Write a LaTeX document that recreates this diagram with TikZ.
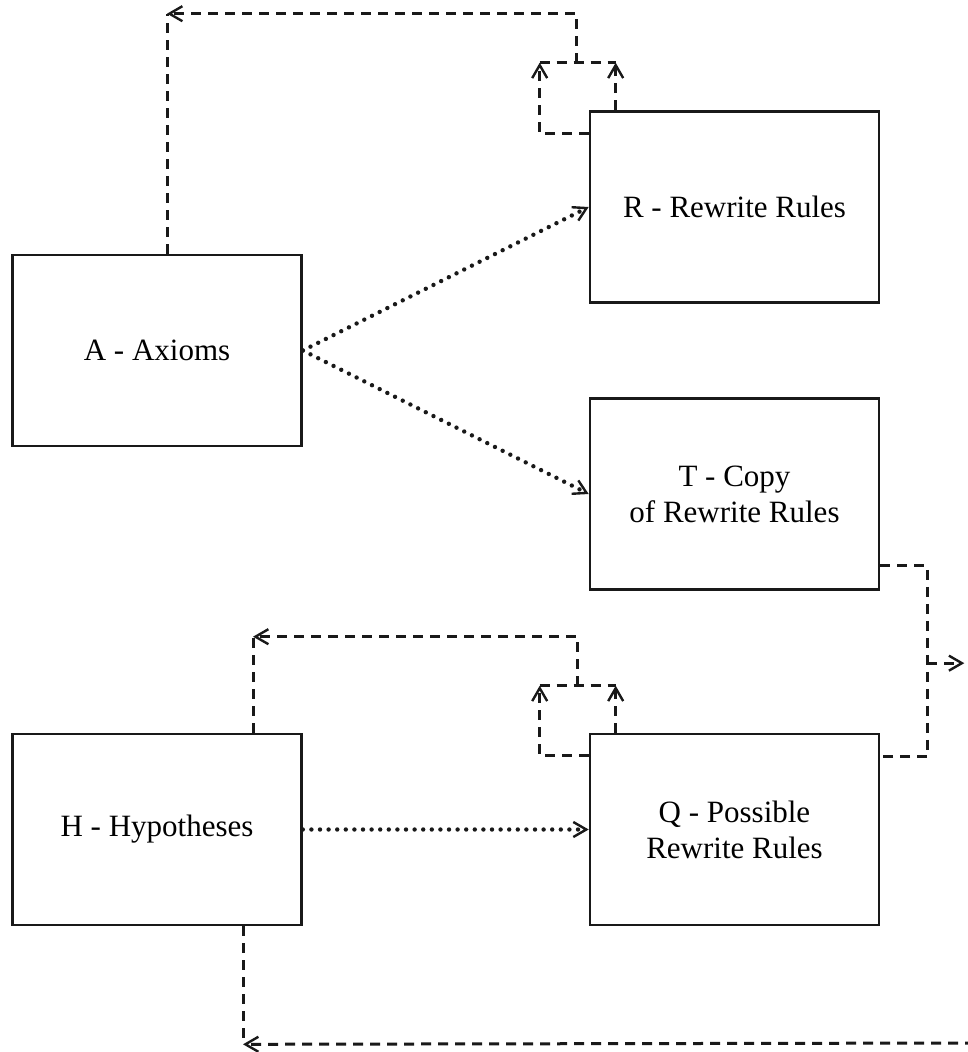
\documentclass[tikz,border=0pt]{standalone}
\usepackage{fontspec}
\setmainfont{Liberation Serif}
\usetikzlibrary{arrows.meta,calc}

\begin{document}
\begin{tikzpicture}[x=1pt,y=-1pt,
  box/.style={draw=black!90, line width=2.6pt, rectangle,
    minimum width=289pt, minimum height=191pt, inner sep=0pt,
    align=center, font=\fontsize{31}{36}\selectfont},
  opentip/.tip={Straight Barb[length=13pt,width=15pt,line width=2.4pt]},
  dashline/.style={draw=black!90, line width=3pt, dash pattern=on 10pt off 7pt},
  dotline/.style={draw=black!90, line width=4.4pt, line cap=round,
    dash pattern=on 0pt off 8.6pt}]

\useasboundingbox (0,0) rectangle (967,1052);

% storage boxes
\node[box] (A) at (157,350.5) {A - Axioms};
\node[box] (R) at (734.5,207) {R - Rewrite Rules};
\node[box] (T) at (734.5,494) {T - Copy\\of Rewrite Rules};
\node[box] (H) at (157,829.5) {H - Hypotheses};
\node[box] (Q) at (734.5,829.5) {Q - Possible\\Rewrite Rules};

% transfers from axioms and hypotheses
\draw[dotline,-{opentip}] (A.east) -- (R.west);
\draw[dotline,-{opentip}] (A.east) -- (T.west);
\draw[dotline,-{opentip}] (H.east) -- (Q.west);

% feedback loop on R
\coordinate (rl1) at ($(R.north west)+(0,23.5)$);
\coordinate (rl2) at ($(R.north west)+(-49,23.5)$);
\coordinate (rl3) at ($(R.north west)+(-49,-47.5)$);
\coordinate (rt1) at ($(R.north west)+(27,0)$);
\coordinate (rt2) at ($(R.north west)+(27,-47.5)$);
\coordinate (rj)  at ($(R.north west)+(-12,-47.5)$);
\coordinate (a1)  at ($(A.north)+(10,0)$);
\coordinate (ac)  at ($(A.north)+(10,-240)$);
\draw[dashline,-{opentip}] (rl1) -- (rl2) -- (rl3);
\draw[dashline,-{opentip}] (rt1) -- (rt2);
\draw[dashline] (rl3) -- (rt2);
\draw[dashline,-{opentip}] (rj) -- (rj |- ac) -- (ac);
\draw[dashline] (a1) -- (ac);

% feedback loop on Q
\coordinate (ql1) at ($(Q.north west)+(0,23)$);
\coordinate (ql2) at ($(Q.north west)+(-49,23)$);
\coordinate (ql3) at ($(Q.north west)+(-49,-47)$);
\coordinate (qt1) at ($(Q.north west)+(27,0)$);
\coordinate (qt2) at ($(Q.north west)+(27,-47)$);
\coordinate (qj)  at ($(Q.north west)+(-11,-47)$);
\coordinate (h0)  at ($(H.north)+(96,0)$);
\coordinate (hc)  at ($(H.north)+(96,-96)$);
\draw[dashline,-{opentip}] (ql1) -- (ql2) -- (ql3);
\draw[dashline,-{opentip}] (qt1) -- (qt2);
\draw[dashline] (ql3) -- (qt2);
\draw[dashline,-{opentip}] (qj) -- (qj |- hc) -- (hc);
\draw[dashline] (h0) -- (hc);

% T and Q joined on the right
\coordinate (t1) at ($(T.south east)+(0,-25)$);
\coordinate (t2) at ($(T.south east)+(47,-25)$);
\coordinate (q1) at ($(Q.north east)+(0,24)$);
\coordinate (q2) at ($(Q.north east)+(47,24)$);
\coordinate (tm) at ($(t2)!0.51!(q2)$);
\coordinate (tout) at ($(tm)+(37,0)$);
\draw[dashline] (t1) -- (t2) -- (q2) -- (q1);
\draw[dashline,-{opentip}] (tm) -- (tout);

% return path into H
\coordinate (hb1) at ($(H.south)+(86,0)$);
\coordinate (hb2) at ($(H.south)+(86,118)$);
\coordinate (bend) at (975,1043);
\draw[dashline] (hb1) -- (hb2);
\draw[dashline,-{opentip}] (bend) -- (hb2);

\end{tikzpicture}
\end{document}
